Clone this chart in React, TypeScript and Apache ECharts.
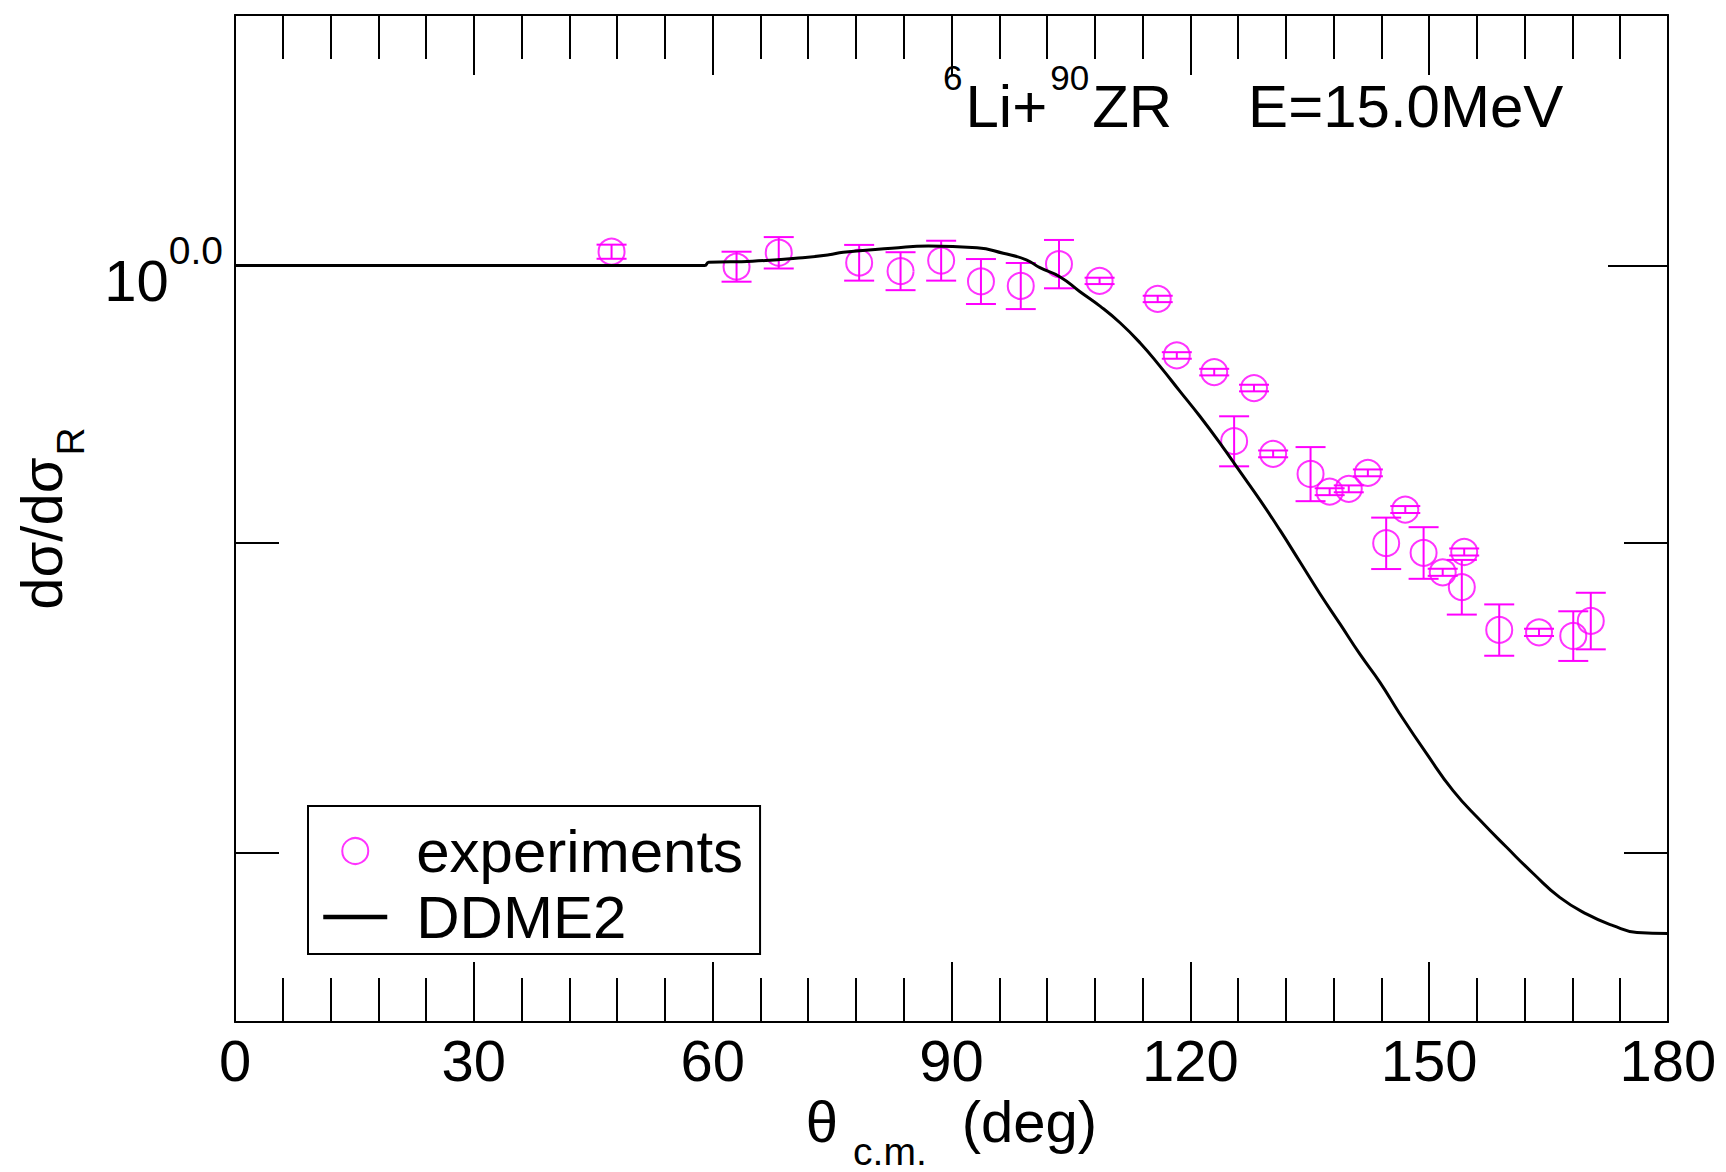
import React, { useEffect, useRef } from 'react';
import * as echarts from 'echarts';

// ---- data ----
const expAngles = [47.3, 63.0, 68.3, 78.4, 83.6, 88.7, 93.7, 98.7, 103.5, 108.6, 115.9, 118.3, 123.0, 125.5, 128.0, 130.4, 135.1, 137.5, 139.9, 142.3, 144.6, 147.0, 149.3, 151.7, 154.1, 154.4, 158.8, 163.8, 168.1, 170.3];
const expValues = [1.0053, 0.9996, 1.0049, 1.0011, 0.9979, 1.0019, 0.9940, 0.9923, 1.0006, 0.9942, 0.9874, 0.9664, 0.9603, 0.9354, 0.9545, 0.9309, 0.9238, 0.9176, 0.9186, 0.9242, 0.8998, 0.9114, 0.8965, 0.8899, 0.8849, 0.8968, 0.8706, 0.8698, 0.8686, 0.8736];
const expErrors = [0.0027, 0.0057, 0.0060, 0.0068, 0.0072, 0.0076, 0.0085, 0.0087, 0.0092, 0.0012, 0.0012, 0.0012, 0.0012, 0.0089, 0.0012, 0.0012, 0.0095, 0.0012, 0.0012, 0.0012, 0.0088, 0.0012, 0.0088, 0.0012, 0.0092, 0.0012, 0.0085, 0.0012, 0.0082, 0.0094];

const curveAngles = [0, 59, 59.5, 65, 71.3, 74.6, 76.4, 82.5, 87.1, 93.2, 96.5, 99.4, 101.1, 103.6, 106.1, 108.7, 111.2, 113.7, 116.2, 118.7, 121.2, 123.7, 126.2, 128.8, 131.3, 133.8, 136.3, 138.8, 141.3, 143.8, 146.3, 149.7, 153.0, 156.4, 159.7, 163.1, 166.4, 169.8, 173.1, 176.1, 180];
const curveDDME2 = [1.0, 1.0, 1.0013, 1.0017, 1.0030, 1.0041, 1.0051, 1.0066, 1.0075, 1.0068, 1.0047, 1.0022, 0.9992, 0.9958, 0.9902, 0.9846, 0.9784, 0.9710, 0.9624, 0.9533, 0.9443, 0.9348, 0.9248, 0.9145, 0.9041, 0.8933, 0.8826, 0.8726, 0.8626, 0.8535, 0.8433, 0.8305, 0.8190, 0.8098, 0.8016, 0.7935, 0.7864, 0.7814, 0.7780, 0.7760, 0.7757];

const xTickInterval = 30;
const xMinorSplit = 5;
const xRange = [0, 180];
const yRange = [0.75, 1.1];
const yMajorTicks = [1.0];
const yMinorTicks = [0.8, 0.9];

const FONT = '"Liberation Sans", Arial, Helvetica, sans-serif';
const MAGENTA = '#ff00ff';
const BLACK = '#000000';
const CLEAR = 'rgba(0,0,0,0)';

const lg = (v: number) => Math.log10(v);

function tickAxis(position: 'left' | 'right', values: number[], length: number, extra: any = {}) {
  return {
    type: 'value',
    position,
    min: lg(yRange[0]),
    max: lg(yRange[1]),
    axisLine: { show: false },
    axisTick: {
      show: true,
      inside: true,
      length,
      customValues: values.map(lg),
      lineStyle: { color: BLACK, width: 2 },
    },
    axisLabel: { show: false },
    splitLine: { show: false },
    ...extra,
  };
}

function buildOption() {
  const xCommon = {
    type: 'value',
    min: xRange[0],
    max: xRange[1],
    interval: xTickInterval,
    axisLine: { show: true, onZero: false, lineStyle: { color: BLACK, width: 2 } },
    axisTick: { show: true, inside: true, length: 60, lineStyle: { color: BLACK, width: 2 } },
    minorTick: { show: true, splitNumber: xMinorSplit, length: 44, lineStyle: { color: BLACK, width: 2 } },
    splitLine: { show: false },
  };

  const txt = { fontFamily: FONT, color: BLACK, fontWeight: 'normal' };

  return {
    animation: false,
    backgroundColor: '#ffffff',
    textStyle: { fontFamily: FONT },
    title: {
      text: '{sup|6}{main|Li+}{sup|90}{main|ZR}{gap|E=15.0MeV}',
      left: 940,
      top: 71,
      padding: 0,
      textStyle: {
        fontWeight: 'normal',
        rich: {
          main: { ...txt, fontSize: 60, lineHeight: 70 },
          sup: { ...txt, fontSize: 35, lineHeight: 70, padding: [0, 3, 57, 3] },
          gap: { ...txt, fontSize: 60, lineHeight: 70, padding: [0, 0, 0, 76] },
        },
      },
    },
    legend: {
      orient: 'vertical',
      left: 308,
      top: 806,
      padding: [14, 17, 6, 13],
      itemWidth: 64,
      itemHeight: 26,
      itemGap: 4,
      borderColor: BLACK,
      borderWidth: 2,
      backgroundColor: '#ffffff',
      selectedMode: false,
      textStyle: { ...txt, fontSize: 60, lineHeight: 62, padding: [0, 0, 0, 24] },
      data: [
        { name: 'experiments', icon: 'circle', itemStyle: { color: CLEAR, borderColor: MAGENTA, borderWidth: 2 } },
        {
          name: 'DDME2',
          lineStyle: { color: BLACK, width: 4.5 },
          itemStyle: { color: CLEAR, borderColor: CLEAR, borderWidth: 0, opacity: 0 },
        },
      ],
    },
    grid: { left: 235, right: 58, top: 15, bottom: 150, containLabel: false, outerBoundsMode: 'none' },
    xAxis: [
      {
        ...xCommon,
        position: 'bottom',
        axisLabel: { ...txt, fontSize: 58, margin: 8, lineHeight: 60 },
        name: '{a|θ}{s|c.m.}{a|(deg)}',
        nameLocation: 'middle',
        nameGap: 69,
        nameMoveOverlap: false,
        nameTextStyle: {
          rich: {
            a: { ...txt, fontSize: 58, lineHeight: 60 },
            s: { ...txt, fontSize: 39, lineHeight: 60, padding: [60, 35, 0, 15] },
          },
        },
      },
      { ...xCommon, position: 'top', axisLabel: { show: false } },
    ],
    yAxis: [
      {
        type: 'log',
        position: 'left',
        min: yRange[0],
        max: yRange[1],
        axisLine: { show: true, onZero: false, lineStyle: { color: BLACK, width: 2 } },
        axisTick: { show: false },
        axisLabel: { show: false },
        splitLine: { show: false },
      },
      {
        type: 'log',
        position: 'right',
        min: yRange[0],
        max: yRange[1],
        axisLine: { show: true, onZero: false, lineStyle: { color: BLACK, width: 2 } },
        axisTick: { show: false },
        axisLabel: { show: false },
        splitLine: { show: false },
      },
      tickAxis('left', yMajorTicks, 60, {
        axisLabel: {
          show: true,
          customValues: yMajorTicks.map(lg),
          margin: 12,
          formatter: (v: number) => `{b|10}{s|${v.toFixed(1)}}`,
          rich: {
            b: { ...txt, fontSize: 58, lineHeight: 60, padding: [30, 0, 0, 0] },
            s: { ...txt, fontSize: 39, lineHeight: 60, padding: [0, 0, 31, 0] },
          },
        },
        name: '{a|dσ/dσ}{s|R}',
        nameLocation: 'middle',
        nameGap: 164,
        nameTextStyle: {
          rich: {
            a: { ...txt, fontSize: 58, lineHeight: 60 },
            s: { ...txt, fontSize: 39, lineHeight: 60, padding: [59, 0, 0, 2] },
          },
        },
      }),
      tickAxis('left', yMinorTicks, 44),
      tickAxis('right', yMajorTicks, 60),
      tickAxis('right', yMinorTicks, 44),
    ],
    series: [
      {
        name: 'experiments',
        type: 'scatter',
        xAxisIndex: 0,
        yAxisIndex: 0,
        symbol: 'circle',
        symbolSize: 26,
        itemStyle: { color: CLEAR, borderColor: MAGENTA, borderWidth: 2 },
        data: expAngles.map((t, i) => [t, expValues[i]]),
        z: 3,
      },
      {
        name: 'experiments-errors',
        type: 'custom',
        xAxisIndex: 0,
        yAxisIndex: 0,
        silent: true,
        encode: { x: 0, y: 1 },
        data: expAngles.map((t, i) => [t, expValues[i], expErrors[i]]),
        renderItem: (params: any, api: any) => {
          const x = api.value(0);
          const y = api.value(1);
          const e = api.value(2);
          const top = api.coord([x, y + e]);
          const bot = api.coord([x, y - e]);
          const hw = 15;
          const style = { stroke: MAGENTA, lineWidth: 2, fill: null };
          return {
            type: 'group',
            children: [
              { type: 'line', shape: { x1: top[0], y1: top[1], x2: bot[0], y2: bot[1] }, style },
              { type: 'line', shape: { x1: top[0] - hw, y1: top[1], x2: top[0] + hw, y2: top[1] }, style },
              { type: 'line', shape: { x1: bot[0] - hw, y1: bot[1], x2: bot[0] + hw, y2: bot[1] }, style },
            ],
          };
        },
        z: 3,
      },
      {
        name: 'DDME2',
        type: 'line',
        xAxisIndex: 0,
        yAxisIndex: 0,
        symbol: 'none',
        showSymbol: false,
        smooth: 0.5,
        lineStyle: { color: BLACK, width: 3 },
        itemStyle: { color: BLACK },
        data: curveAngles.map((t, i) => [t, curveDDME2[i]]),
        z: 4,
      },
    ],
  };
}

export default function App() {
  const ref = useRef<HTMLDivElement>(null);
  useEffect(() => {
    if (!ref.current) return;
    const chart = echarts.init(ref.current, undefined, { renderer: 'svg' });
    chart.setOption(buildOption() as any);
    return () => chart.dispose();
  }, []);
  return (
    <div
      ref={ref}
      style={{ position: 'absolute', left: 0, top: 0, width: 1726, height: 1172, background: '#fff' }}
    />
  );
}
